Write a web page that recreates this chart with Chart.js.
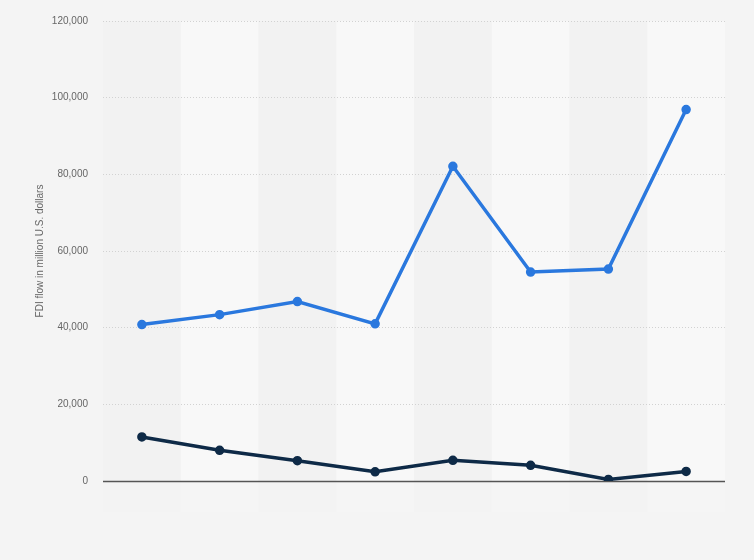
<!DOCTYPE html>
<html>
<head>
<meta charset="utf-8">
<script src="https://cdn.jsdelivr.net/npm/chart.js@4"></script>
<style>
html,body{margin:0;padding:0;background:#f4f4f4;}
#wrap{width:754px;height:560px;position:relative;}
</style>
</head>
<body>
<div id="wrap"><canvas id="c" width="754" height="560"></canvas></div>
<script>
const categories = ['1', '2', '3', '4', '5', '6', '7', '8'];
const seriesBlue = [40800, 43400, 46800, 41000, 82100, 54500, 55300, 96900];
const seriesDark = [11500, 8000, 5300, 2400, 5400, 4100, 400, 2500];
const yTicks = [0, 20000, 40000, 60000, 80000, 100000, 120000];
const yTitle = 'FDI flow in million U.S. dollars';

const bands = {
  id: 'bands',
  beforeDraw(chart) {
    const {ctx, chartArea, scales} = chart;
    const x = scales.x;
    const n = categories.length;
    const w = (chartArea.right - chartArea.left) / n;
    ctx.save();
    for (let i = 0; i < n; i++) {
      const cx = x.getPixelForValue(i);
      ctx.fillStyle = i % 2 === 0 ? '#f2f2f2' : '#f8f8f8';
      ctx.fillRect(cx - w / 2, chartArea.top, w, chartArea.bottom - chartArea.top);
      ctx.fillStyle = i % 2 === 0 ? '#f3f3f3' : '#f5f5f5';
      ctx.fillRect(cx - w / 2, chartArea.bottom, w, 31);
    }
    ctx.restore();
  },
  beforeDatasetsDraw(chart) {
    const {ctx, chartArea, scales} = chart;
    const y0 = Math.round(scales.y.getPixelForValue(0)) + 0.5;
    ctx.save();
    ctx.strokeStyle = '#555';
    ctx.lineWidth = 1.5;
    ctx.beginPath();
    ctx.moveTo(chartArea.left, y0);
    ctx.lineTo(chartArea.right, y0);
    ctx.stroke();
    ctx.restore();
  }
};

new Chart(document.getElementById('c'), {
  type: 'line',
  data: {
    labels: categories,
    datasets: [
      {data: seriesBlue, borderColor: '#2a78de', backgroundColor: '#2a78de', borderWidth: 3.5, pointRadius: 3, pointHoverRadius: 3, tension: 0},
      {data: seriesDark, borderColor: '#0e2a47', backgroundColor: '#0e2a47', borderWidth: 3.5, pointRadius: 3, pointHoverRadius: 3, tension: 0}
    ]
  },
  options: {
    responsive: false,
    animation: false,
    layout: {padding: {left: 34, right: 29, top: 19, bottom: 79}},
    plugins: {legend: {display: false}, tooltip: {enabled: false}},
    scales: {
      x: {
        type: 'category',
        offset: true,
        display: false,
        grid: {display: false}
      },
      y: {
        min: 0,
        max: 120000,
        afterBuildTicks(s) { s.ticks = yTicks.map(v => ({value: v})); },
        afterFit(s) { s.width = 69; },
        border: {display: false, dash: [1, 2]},
        grid: {
          color: ctx => ctx.tick && ctx.tick.value === 0 ? 'rgba(0,0,0,0)' : '#d2d2d2',
          lineWidth: 1,
          drawTicks: false
        },
        ticks: {
          padding: 15,
          color: '#666',
          font: {family: 'Liberation Sans, Arial, sans-serif', size: 10},
          callback: v => v.toLocaleString('en-US')
        },
        title: {
          display: true,
          text: yTitle,
          color: '#666',
          padding: 0,
          font: {family: 'Liberation Sans, Arial, sans-serif', size: 10}
        }
      }
    }
  },
  plugins: [bands]
});
</script>
</body>
</html>
